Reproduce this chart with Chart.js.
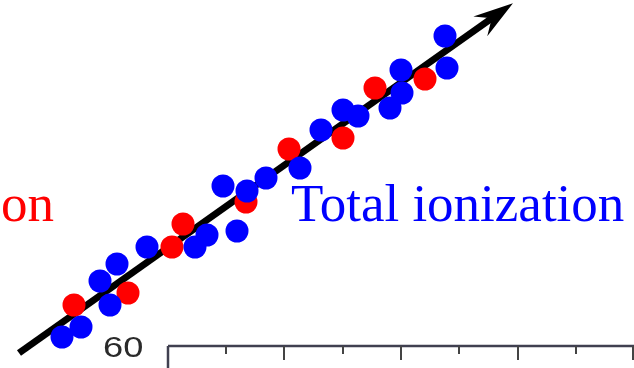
<!DOCTYPE html>
<html lang="en">
<head>
    <meta charset="UTF-8">
    <title>Total ionization</title>
    <script src="https://cdn.jsdelivr.net/npm/chart.js"></script>
    <style>
        body { margin: 0; background: #fff; }
        canvas { display: block; }
    </style>
</head>
<body>
    <canvas id="myChart" width="634" height="368"></canvas>
<script>
    // pontos (unidades do eixo escondido)
    const blueX = [62, 81, 110, 100, 117, 147, 195, 207, 237, 223, 247, 266, 300, 321, 343, 358, 390, 401, 402, 445, 447];
    const blueY = [337, 327, 305, 281, 264, 247, 247, 235, 231, 186, 191, 178, 168, 130, 110, 116, 108, 70, 93, 36, 68];
    const redX = [74, 128, 172, 183, 246, 289, 343, 375, 425];
    const redY = [305, 293, 247, 224, 202, 149, 138, 88, 79];

    // linha de tendencia (termina na base da seta)
    const trendX = [19, 495];
    const trendY = [353, 16];

    // eixo do grafico de baixo
    const lowerTicks = [226, 284, 343, 401, 459, 518, 576, 633];
    const lowerMajor = [false, true, false, true, false, true, false, true];
    const lowerLabel = '60';

    const toPts = (xs, ys) => xs.map((x, i) => ({ x: x, y: ys[i] }));

    const extras = {
        id: 'extras',
        afterDatasetsDraw(chart) {
            const ctx = chart.ctx;
            const sx = chart.scales.x, sy = chart.scales.y;
            // ponta da seta
            const x0 = sx.getPixelForValue(trendX[0]), y0 = sy.getPixelForValue(trendY[0]);
            const x1 = sx.getPixelForValue(trendX[1]), y1 = sy.getPixelForValue(trendY[1]);
            const len = Math.hypot(x1 - x0, y1 - y0);
            const ux = (x1 - x0) / len, uy = (y1 - y0) / len;
            const nx = -uy, ny = ux;
            const tipX = x1 + ux * 22, tipY = y1 + uy * 22;
            const bx = tipX - ux * 40, by = tipY - uy * 40;
            ctx.save();
            ctx.fillStyle = '#000';
            ctx.beginPath();
            ctx.moveTo(tipX, tipY);
            ctx.lineTo(bx + nx * 12, by + ny * 12);
            ctx.lineTo(x1 - ux * 4, y1 - uy * 4);
            ctx.lineTo(bx - nx * 12, by - ny * 12);
            ctx.closePath();
            ctx.fill();

            // textos
            ctx.font = '53px "Liberation Serif", "Times New Roman", serif';
            ctx.textBaseline = 'alphabetic';
            ctx.fillStyle = '#ff0000';
            ctx.fillText('on', 1, 221);
            ctx.fillStyle = '#0000ff';
            ctx.fillText('Total ionization', 291, 221);

            // pedaco do grafico de baixo
            ctx.fillStyle = '#2a2a2a';
            ctx.font = '29px "Liberation Sans", Arial, sans-serif';
            ctx.save();
            ctx.translate(103, 357);
            ctx.scale(1.25, 1);
            ctx.fillText(lowerLabel, 0, 0);
            ctx.restore();

            const axY = 346;
            ctx.strokeStyle = '#404050';
            ctx.lineWidth = 2.5;
            ctx.beginPath();
            ctx.moveTo(168, axY);
            ctx.lineTo(634, axY);
            ctx.moveTo(168, axY);
            ctx.lineTo(168, 368);
            ctx.stroke();
            ctx.lineWidth = 2;
            ctx.strokeStyle = '#444';
            lowerTicks.forEach((t, i) => {
                const px = sx.getPixelForValue(t);
                ctx.beginPath();
                ctx.moveTo(px, axY);
                ctx.lineTo(px, axY + (lowerMajor[i] ? 14 : 8));
                ctx.stroke();
            });
            ctx.restore();
        }
    };

    const dados = {
        datasets: [
            {
                label: 'Total ionization',
                data: toPts(blueX, blueY),
                backgroundColor: '#0000ff',
                borderColor: '#0000ff',
                borderWidth: 0,
                pointRadius: 11.5,
                showLine: false
            },
            {
                label: 'on',
                data: toPts(redX, redY),
                backgroundColor: '#ff0000',
                borderColor: '#ff0000',
                borderWidth: 0,
                pointRadius: 11.5,
                showLine: false
            },
            {
                label: 'trend',
                data: toPts(trendX, trendY),
                borderColor: '#000',
                backgroundColor: '#000',
                borderWidth: 7,
                pointRadius: 0,
                showLine: true,
                borderCapStyle: 'butt'
            }
        ]
    };

    new Chart(document.getElementById('myChart'), {
        type: 'scatter',
        data: dados,
        options: {
            responsive: false,
            animation: false,
            layout: { padding: 0, autoPadding: false },
            scales: {
                x: { type: 'linear', min: 0, max: 634, display: false },
                y: { type: 'linear', min: 0, max: 368, reverse: true, display: false }
            },
            plugins: {
                legend: { display: false },
                tooltip: { enabled: false }
            }
        },
        plugins: [extras]
    });
</script>
</body>
</html>
